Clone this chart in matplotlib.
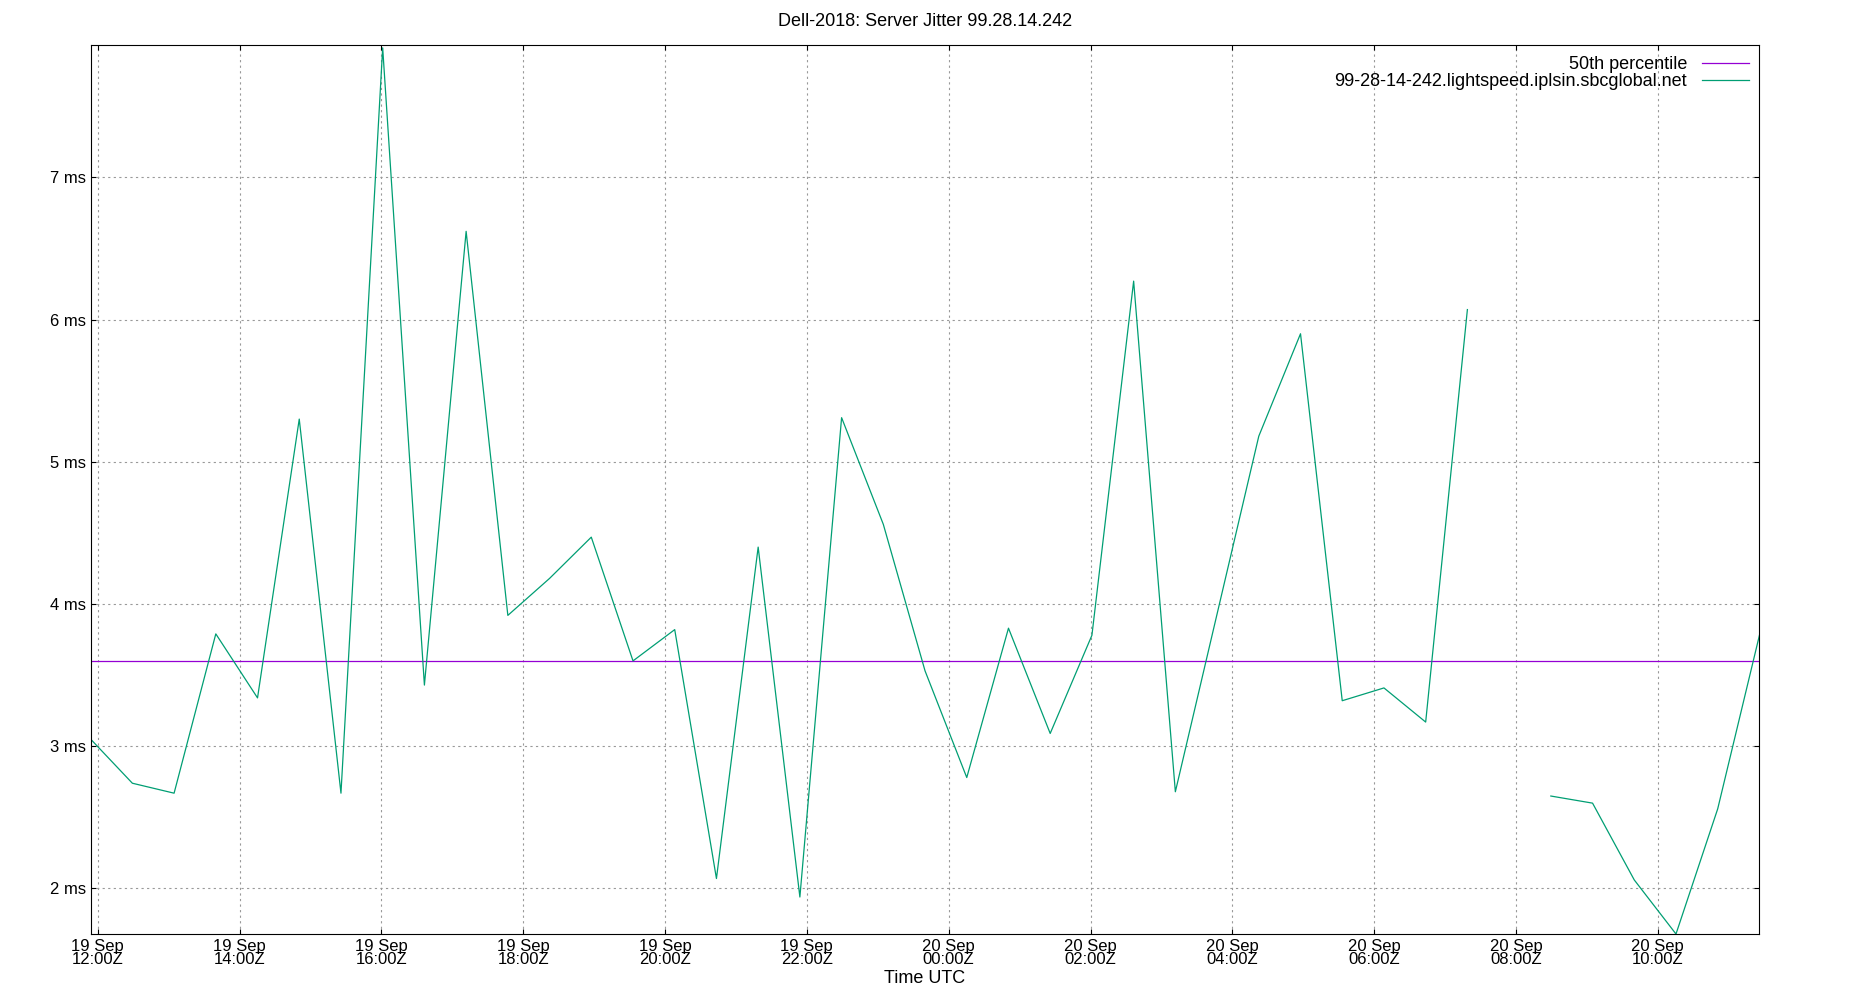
import matplotlib
matplotlib.use("Agg")
import matplotlib.pyplot as plt
import matplotlib.dates as mdates
import numpy as np
import pandas as pd

plt.rcParams['font.family'] = ['Liberation Sans', 'DejaVu Sans']

start = "2018-09-19 11:54"
step_min = 35.3
jitter_ms = [3.05, 2.74, 2.67, 3.79, 3.34, 5.30, 2.67, 7.91, 3.43, 6.62,
             3.92, 4.18, 4.47, 3.60, 3.82, 2.07, 4.40, 1.94, 5.31, 4.56,
             3.53, 2.78, 3.83, 3.09, 3.78, 6.27, 2.68, 3.93, 5.18, 5.90,
             3.32, 3.41, 3.17, 6.07, np.nan, 2.65, 2.60, 2.06, 1.68, 2.56, 3.78]
median_ms = 3.60
series_label = "99-28-14-242.lightspeed.iplsin.sbcglobal.net"

times = pd.Timestamp(start) + pd.to_timedelta(np.arange(len(jitter_ms)) * step_min, unit="min")

fig = plt.figure(figsize=(18.5, 10), dpi=100)
ax = fig.add_axes([0.049, 0.066, 0.913 * 0.988, 0.889])
ax.axhline(median_ms, color="#9400d3", lw=0.9, label="50th percentile")
ax.plot(times, jitter_ms, color="#009e73", lw=0.9, label=series_label)

ax.set_xlim(times[0], times[-1])
ax.set_ylim(1.68, 7.93)
ax.set_yticks([2, 3, 4, 5, 6, 7])
ax.set_yticklabels([f"{v} ms" for v in [2, 3, 4, 5, 6, 7]])
ax.xaxis.set_major_locator(mdates.HourLocator(byhour=range(0, 24, 2)))
ax.xaxis.set_major_formatter(mdates.DateFormatter("%d %b\n%H:%MZ"))
ax.grid(True, color="#999999", ls=(0, (2, 3)), lw=0.8)
ax.tick_params(direction="in", labelsize=12, top=True, right=True)
for lab in ax.get_xticklabels():
    lab.set_linespacing(0.85)
ax.set_xlabel("Time UTC", fontsize=13, labelpad=2)
ax.set_title("Dell-2018: Server Jitter 99.28.14.242", fontsize=13, pad=14)
ax.legend(loc="upper right", frameon=False, markerfirst=False, fontsize=13,
          handlelength=2.6, borderaxespad=0.2, labelspacing=0.0)
fig.savefig("out.png", dpi=100)
